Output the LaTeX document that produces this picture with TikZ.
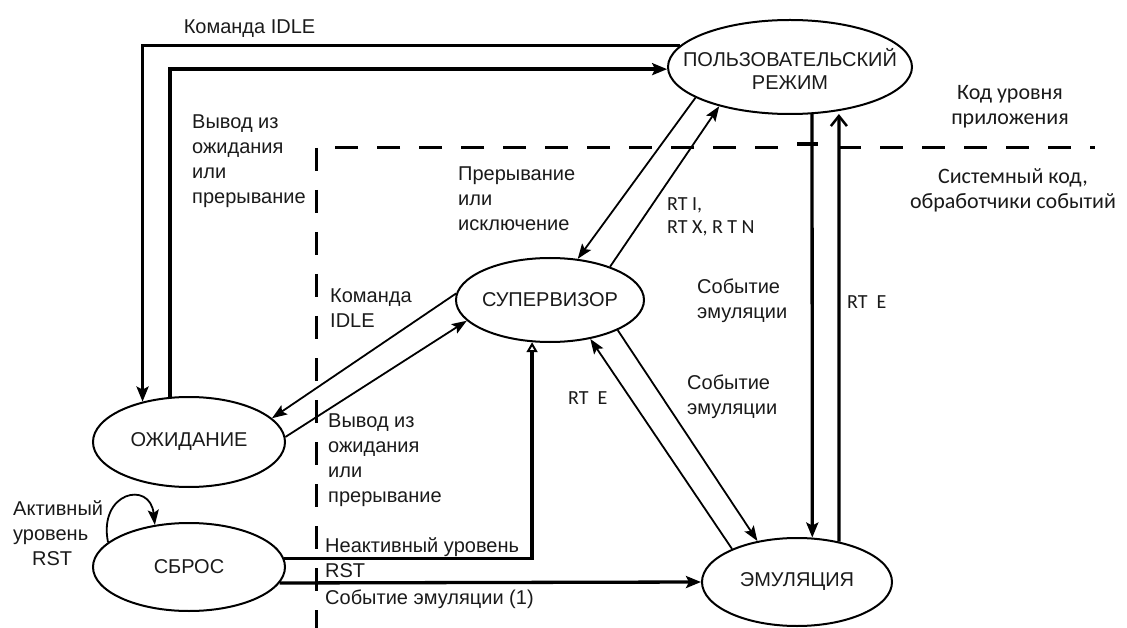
\documentclass[tikz,border=0pt]{standalone}
\usepackage{fontspec}
\setmainfont{Liberation Sans}
\newfontfamily\calib{Carlito}
\usetikzlibrary{shapes.geometric,arrows.meta}
\definecolor{txt}{HTML}{1A1A1A}
\begin{document}
\begin{tikzpicture}[x=1pt,y=-1pt,
  st/.style={draw, line width=2pt, ellipse, inner sep=0pt},
  nt/.style={font=\fontsize{20}{23}\selectfont, text=txt, inner sep=0pt, align=center},
  lb/.style={font=\fontsize{20}{25}\selectfont, text=txt, inner sep=0pt, align=left, anchor=north west},
  lbc/.style={font=\calib\fontsize{20}{23}\selectfont, text=txt, inner sep=0pt, align=left, anchor=north west},
  lbr/.style={font=\calib\fontsize{22}{25}\selectfont, text=txt, inner sep=0pt, align=center, anchor=north},
  thickarr/.style={line width=3.3pt, -{Stealth[length=15pt,width=12pt,inset=3pt]}},
  thinarr/.style={line width=1.8pt, -{Stealth[length=15pt,width=11pt,inset=3pt]}},
  opentip/.style={line width=3.3pt, -{Triangle[open,length=10pt,width=11pt,line width=2pt]}},
  chev/.style={line width=3.3pt, -{Straight Barb[length=10pt,width=16pt,line width=2.5pt]}, shorten >=3pt},
  dsh/.style={line width=3pt, dash pattern=on 23pt off 19pt}
]
\useasboundingbox (0,0) rectangle (1127,628);

% states
\node[st, minimum width=244pt, minimum height=94pt] (U) at (790,67) {};
\node[nt] (Ut) at (790,69) {ПОЛЬЗОВАТЕЛЬСКИЙ\\РЕЖИМ};
\node[st, minimum width=188pt, minimum height=84pt] (S) at (550,300) {};
\node[nt] (St) at (S) {СУПЕРВИЗОР};
\node[st, minimum width=192pt, minimum height=90pt] (W) at (189,442) {};
\node[nt] (Wt) at (W) {ОЖИДАНИЕ};
\node[st, minimum width=192pt, minimum height=88pt] (R) at (189,567) {};
\node[nt] (Rt) at (R) {СБРОС};
\node[st, minimum width=190pt, minimum height=88pt] (E) at (797,582) {};
\node[nt] (Et) at (E) {ЭМУЛЯЦИЯ};

% dashed boundary
\draw[dsh] (778,148) -- (316,148) -- (316,628);
\draw[dsh] (838,148) -- (1095,148);
\draw[line width=3.3pt] (797,144) -- (818,144);

% connectors
\draw[thickarr] (U.169.7) -| (W.139.3);
\draw[thickarr] (W.113.3) |- (U.181);
\draw[thinarr] (U.198.1) -- (S.56.1);
\draw[thinarr] (S.29.6) -- (U.209.8);
\draw[thinarr] (S.176) -- (W.16.6);
\draw[thinarr] (W.3) -- (S.194);
\draw[opentip] (R.5.5) -| (S.247.6);
\draw[thickarr] (R.350.6) -- (E.west);
\draw[thinarr] (S.336.2) -- (E.134.2);
\draw[thinarr] (E.153.1) -- (S.316.5);
\draw[thickarr] (U.295.5) -- (E.71);
\draw[chev] (E.44.1) -- (U.318);
\draw[thinarr] (R.163.8) .. controls (98,492) and (150,480) .. (R.129.6);

% labels
\node[nt, anchor=base] (l1) at (249.5,34) {Команда IDLE};
\node[lb] (l2) at (192,115) {Вывод из\\ожидания\\или\\прерывание};
\node[lb] (l3) at (458,167) {Прерывание\\или\\исключение};
\node[lbc] (l4) at (667,197) {RT I,\\RT X, R T N};
\node[lb] (l5) at (330,289) {Команда\\IDLE};
\node[lb] (l6) at (328,414) {Вывод из\\ожидания\\или\\прерывание};
\node[lb] (l7) at (697,279) {Событие\\эмуляции};
\node[lb] (l8) at (687,375) {Событие\\эмуляции};
\node[lbc, anchor=west] (l9) at (568,398) {RT\ \ E};
\node[lbc, anchor=west] (l10) at (847,302) {RT\ \ E};
\node[lb] (l11) at (13,500) {Активный\\уровень\\\hspace*{19pt}RST};
\node[lb] (l12) at (325,537) {Неактивный уровень\\RST};
\node[lb, anchor=base west] (l13) at (325,604) {Событие эмуляции (1)};
\node[lbr] (l14) at (1010,85) {Код уровня\\приложения};
\node[lbr] (l15) at (1013,168) {Системный код,\\обработчики событий};
\end{tikzpicture}
\end{document}
